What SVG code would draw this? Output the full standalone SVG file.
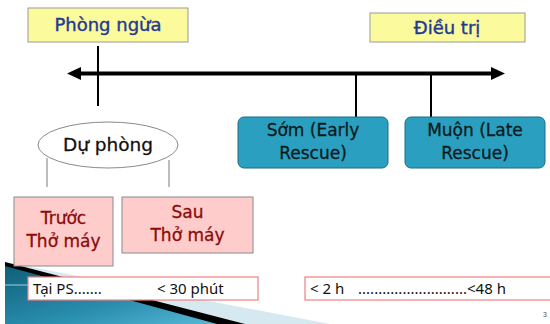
<svg xmlns="http://www.w3.org/2000/svg" width="550" height="324" viewBox="0 0 550 324">
<defs>
<linearGradient id="teal" x1="0" y1="0" x2="1" y2="1">
<stop offset="0" stop-color="#0f5f78"/>
<stop offset="0.6" stop-color="#2a8fb0"/>
<stop offset="1" stop-color="#58b8d6"/>
</linearGradient>
<style>
.title{font-family:"DejaVu Sans",sans-serif;font-size:18px;fill:#1f3a93;stroke:#1f3a93;stroke-width:0.4;text-anchor:middle}
.ybox{fill:#fbfa9c;stroke:#9a9a9a;stroke-width:1}
.tbox{fill:#2b9fbf;stroke:#1d6d84;stroke-width:1}
.ttxt{font-family:"DejaVu Sans",sans-serif;font-size:17px;fill:#0b1a20;stroke:#0b1a20;stroke-width:0.3;text-anchor:middle}
.pbox{fill:#ffcccc;stroke:#8a8a8a;stroke-width:1}
.ptxt{font-family:"DejaVu Sans",sans-serif;font-size:17px;fill:#8b0a0a;stroke:#8b0a0a;stroke-width:0.3;text-anchor:middle}
.wbox{fill:#ffffff;stroke:#f08080;stroke-width:1.2}
.btxt{font-family:"Noto Sans",sans-serif;font-size:15px;fill:#111111}
.blk{stroke:#000;stroke-width:2;fill:none}
.gry{stroke:#9a9a9a;stroke-width:1.3;fill:none}
</style>
</defs>
<rect width="550" height="324" fill="#ffffff"/>
<g id="decoration">
<polygon points="5,262 330,324 5,324" fill="#d6e9f1"/>
<polygon points="5,262 245,324 5,324" fill="#000000"/>
<polygon points="5,266 217,324 5,324" fill="url(#teal)"/>
<line x1="5" y1="285" x2="30" y2="285" stroke="#9fd0e0" stroke-width="1"/>
</g>
<g id="connectors">
<line x1="80" y1="73.5" x2="492" y2="73.5" stroke="#000" stroke-width="4"/>
<polygon points="67,73.5 81,67 81,80" fill="#000"/>
<polygon points="505,73.5 491,67 491,80" fill="#000"/>
<line class="blk" x1="98" y1="46" x2="98" y2="106"/>
<line class="blk" x1="356" y1="73" x2="356" y2="117"/>
<line class="blk" x1="431" y1="73" x2="431" y2="117"/>
<line class="gry" x1="47" y1="158" x2="47" y2="187"/>
<line class="gry" x1="169" y1="160" x2="169" y2="187"/>
</g>
<g id="phong-ngua">
<rect class="ybox" x="28" y="8" width="160" height="34"/>
<text class="title" x="108" y="31">Phòng ngừa</text>
</g>
<g id="dieu-tri">
<rect class="ybox" x="370" y="13" width="155" height="29"/>
<text class="title" x="447" y="34">Điều trị</text>
</g>
<g id="du-phong">
<ellipse cx="108" cy="145" rx="70" ry="23" fill="#ffffff" stroke="#8a8a8a" stroke-width="1"/>
<text x="108" y="151" font-family="DejaVu Sans, sans-serif" font-size="18.5" fill="#111" stroke="#111" stroke-width="0.3" text-anchor="middle">Dự phòng</text>
</g>
<g id="som">
<rect class="tbox" x="238" y="117" width="150" height="51" rx="6"/>
<text class="ttxt" x="313" y="136">Sớm (Early</text>
<text class="ttxt" x="313" y="159">Rescue)</text>
</g>
<g id="muon">
<rect class="tbox" x="405" y="117" width="140" height="51" rx="6"/>
<text class="ttxt" x="475" y="136">Muộn (Late</text>
<text class="ttxt" x="475" y="159">Rescue)</text>
</g>
<g id="truoc">
<rect class="pbox" x="14" y="197" width="99" height="69"/>
<text class="ptxt" x="63.5" y="224">Trước</text>
<text class="ptxt" x="63.5" y="247">Thở máy</text>
</g>
<g id="sau">
<rect class="pbox" x="122" y="197" width="131" height="56"/>
<text class="ptxt" x="187.5" y="218">Sau</text>
<text class="ptxt" x="187.5" y="241">Thở máy</text>
</g>
<g id="tai-ps">
<rect class="wbox" x="28" y="277" width="230" height="23"/>
<text class="btxt" x="33" y="294">Tại PS.......<tspan x="157">&lt; 30 phút</tspan></text>
</g>
<g id="time-range">
<rect class="wbox" x="305" y="277" width="250" height="23"/>
<text class="btxt" x="310" y="294">&lt; 2 h<tspan x="358" textLength="109" lengthAdjust="spacing">...........................</tspan><tspan x="467">&lt;48 h</tspan></text>
</g>
<text x="543" y="317" font-family="Liberation Sans, sans-serif" font-size="7" fill="#555">3</text>
</svg>
